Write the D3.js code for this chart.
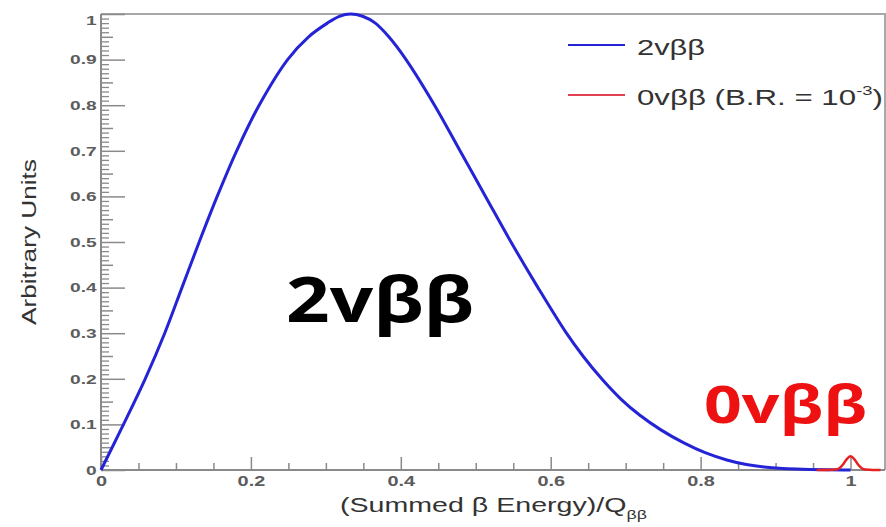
<!DOCTYPE html>
<html>
<head>
<meta charset="utf-8">
<script src="https://cdn.jsdelivr.net/npm/d3@7"></script>
<style>
  html, body { margin: 0; padding: 0; background: #fff; }
  svg { display: block; }
</style>
</head>
<body>
<svg id="chart" width="886" height="527"></svg>
<script>
// Summed-energy spectrum of the two electrons, normalised to the 2νββ maximum
const energy2nu = [0, 0.030, 0.059, 0.085, 0.108, 0.131, 0.155, 0.181, 0.211, 0.249, 0.277, 0.302, 0.318, 0.333,
                   0.349, 0.366, 0.384, 0.407, 0.445, 0.479, 0.513, 0.547, 0.583, 0.621, 0.643, 0.668,
                   0.694, 0.719, 0.747, 0.777, 0.806, 0.835, 0.861, 0.888, 0.928, 0.97, 1.0];
const counts2nu = [0, 0.1, 0.2, 0.3, 0.4, 0.5, 0.6, 0.7, 0.8, 0.9, 0.95, 0.98, 0.995, 1.0,
                   0.995, 0.98, 0.95, 0.9, 0.8, 0.7, 0.6, 0.5, 0.4, 0.3, 0.25, 0.2,
                   0.155, 0.12, 0.088, 0.06, 0.038, 0.022, 0.012, 0.006, 0.002, 0.0003, 0];

// 0νββ line at the endpoint (branching ratio 1e-3 relative to 2νββ)
const energy0nu = [0.955, 0.97, 0.98, 0.985, 0.99, 0.995, 1.0, 1.005, 1.01, 1.015, 1.02, 1.03, 1.04];
const counts0nu = [0, 0, 0.001, 0.004, 0.012, 0.024, 0.03, 0.024, 0.012, 0.004, 0.001, 0, 0];

const xTickValues = [0, 0.2, 0.4, 0.6, 0.8, 1];
const xTickLabels = ["0", "0.2", "0.4", "0.6", "0.8", "1"];
const yTickValues = [0, 0.1, 0.2, 0.3, 0.4, 0.5, 0.6, 0.7, 0.8, 0.9, 1];
const yTickLabels = ["0", "0.1", "0.2", "0.3", "0.4", "0.5", "0.6", "0.7", "0.8", "0.9", "1"];

const legendNames = ["2vββ", "0vββ (B.R. = 10"];
const legendSup = "-3";
const xTitle = "(Summed β Energy)/Q";
const xTitleSub = "ββ";
const yTitle = "Arbitrary Units";
const bigLabel2nu = "2vββ";
const bigLabel0nu = "0vββ";

const BLUE = "#2424d6";
const RED = "#e82020";
const AXIS = "#8a8a8a";
const LABEL = "#5c5c5c";
const FONT = "'Liberation Sans', Arial, Helvetica, sans-serif";

const svg = d3.select("#chart");
const plotLeft = 101, plotRight = 885, plotTop = 14, plotBottom = 470;

const x = d3.scaleLinear().domain([0, 1.046]).range([plotLeft, plotRight]);
const y = d3.scaleLinear().domain([0, 1]).range([plotBottom, plotTop]);

// frame (top and right edges)
svg.append("path")
  .attr("d", `M${plotLeft},${plotTop}H${plotRight}V${plotBottom}`)
  .attr("fill", "none").attr("stroke", "#a8a8a8").attr("stroke-width", 2);

// horizontal stretch applied to tick labels
const TICK_SX = 1.42;

// x axis: minor ticks every 0.05, major every 0.2, ticks drawn inward
const xMinor = d3.range(0, 1.0001, 0.05).filter(v => xTickValues.every(t => Math.abs(t - v) > 1e-6));
svg.append("g").attr("transform", `translate(0,${plotBottom})`)
  .call(d3.axisBottom(x).tickValues(xMinor).tickSize(-7).tickFormat(""))
  .call(g => g.select(".domain").remove())
  .call(g => g.selectAll("line").attr("stroke", AXIS).attr("stroke-width", 1.5));

const xAxis = svg.append("g").attr("transform", `translate(0,${plotBottom})`)
  .call(d3.axisBottom(x).tickValues(xTickValues).tickSize(-13).tickPadding(6)
        .tickFormat((d, i) => xTickLabels[i]));
xAxis.select(".domain").attr("d", `M${plotLeft},0H${plotRight}`).attr("stroke", AXIS).attr("stroke-width", 2);
xAxis.selectAll("line").attr("stroke", AXIS).attr("stroke-width", 1.5);
xAxis.selectAll("text")
  .attr("fill", LABEL).attr("font-family", FONT).attr("font-size", 14).attr("font-weight", 700)
  .attr("transform", `scale(${TICK_SX},1)`);

// y axis: minor ticks every 0.01, medium every 0.05, major every 0.1
const yAll = d3.range(0, 101).map(i => i / 100);
const yMinor = yAll.filter(v => Math.round(v * 100) % 5 !== 0);
const yMid = yAll.filter(v => Math.round(v * 100) % 5 === 0 && Math.round(v * 100) % 10 !== 0);

svg.append("g").attr("transform", `translate(${plotLeft},0)`)
  .call(d3.axisLeft(y).tickValues(yMinor).tickSize(-8).tickFormat(""))
  .call(g => g.select(".domain").remove())
  .call(g => g.selectAll("line").attr("stroke", AXIS).attr("stroke-width", 1.3));
svg.append("g").attr("transform", `translate(${plotLeft},0)`)
  .call(d3.axisLeft(y).tickValues(yMid).tickSize(-12).tickFormat(""))
  .call(g => g.select(".domain").remove())
  .call(g => g.selectAll("line").attr("stroke", AXIS).attr("stroke-width", 1.5));

const yAxis = svg.append("g").attr("transform", `translate(${plotLeft},0)`)
  .call(d3.axisLeft(y).tickValues(yTickValues).tickSize(-24).tickPadding(3)
        .tickFormat((d, i) => yTickLabels[i]));
yAxis.select(".domain").attr("d", `M0,${plotBottom}V${plotTop}`).attr("stroke", AXIS).attr("stroke-width", 2);
yAxis.selectAll("line").attr("stroke", AXIS).attr("stroke-width", 1.5);
yAxis.selectAll("text")
  .attr("fill", LABEL).attr("font-family", FONT).attr("font-size", 13.5).attr("font-weight", 700)
  .attr("transform", `scale(${TICK_SX},1)`)
  .attr("dy", d => d === 1 ? "0.75em" : "0.32em");

// curves
const line = d3.line().x(d => x(d[0])).y(d => y(d[1])).curve(d3.curveCatmullRom.alpha(0.5));
svg.append("path")
  .datum(d3.zip(energy2nu, counts2nu))
  .attr("d", line)
  .attr("fill", "none").attr("stroke", BLUE).attr("stroke-width", 3)
  .attr("stroke-linejoin", "round");
svg.append("path")
  .datum(d3.zip(energy0nu, counts0nu))
  .attr("d", line.curve(d3.curveMonotoneX))
  .attr("fill", "none").attr("stroke", RED).attr("stroke-width", 2.5)
  .attr("stroke-linejoin", "round");

// places a text so that its rendered width equals the given width
function fitText(sel, tx, ty, width, extra) {
  const w = sel.node().getBBox().width;
  sel.attr("transform", `translate(${tx},${ty}) ${extra || ""} scale(${width / w},1)`);
  return sel;
}

// legend
const legendColors = [BLUE, "#e0404f"];
const legendY = [45, 95];
legendColors.forEach((c, i) => {
  svg.append("line")
    .attr("x1", 568).attr("x2", 625).attr("y1", legendY[i]).attr("y2", legendY[i])
    .attr("stroke", c).attr("stroke-width", 2);
});
const leg1 = svg.append("text")
  .attr("font-family", FONT).attr("font-size", 22).attr("fill", "#333")
  .text(legendNames[0]);
fitText(leg1, 637, 55, 68);
const leg2 = svg.append("text")
  .attr("font-family", FONT).attr("font-size", 22).attr("fill", "#333");
leg2.append("tspan").text(legendNames[1]);
leg2.append("tspan").attr("font-size", 13).attr("dy", -10).text(legendSup);
leg2.append("tspan").attr("dy", 10).text(")");
fitText(leg2, 637, 105, 246);

// axis titles
const xt = svg.append("text")
  .attr("font-family", FONT).attr("font-size", 21).attr("fill", "#333");
xt.append("tspan").text(xTitle);
xt.append("tspan").attr("font-size", 13).attr("dy", 7).text(xTitleSub);
fitText(xt, 340, 512, 307);

const yt = svg.append("text")
  .attr("font-family", FONT).attr("font-size", 21).attr("fill", "#333")
  .attr("text-anchor", "middle")
  .text(yTitle);
fitText(yt, 36, 242, 166, "rotate(-90)");

// large annotations
const big2 = svg.append("text")
  .attr("font-family", "'Open Sans', 'DejaVu Sans', sans-serif").attr("font-weight", 700)
  .attr("font-size", 62).attr("fill", "#000")
  .text(bigLabel2nu);
fitText(big2, 286, 322, 188);

const big0 = svg.append("text")
  .attr("font-family", "'Open Sans', 'DejaVu Sans', sans-serif").attr("font-weight", 700)
  .attr("font-size", 52).attr("fill", "#ee1111")
  .text(bigLabel0nu);
fitText(big0, 704, 423, 163);
</script>
</body>
</html>
